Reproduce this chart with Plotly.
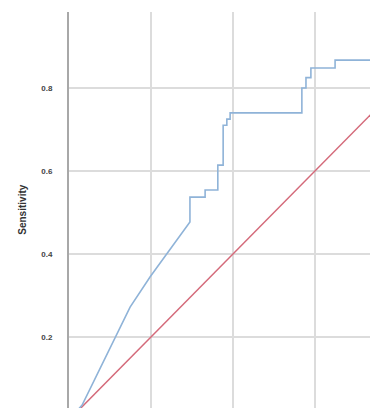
import plotly.graph_objects as go

# ROC curve (1 - specificity, sensitivity)
roc_fpr = [0.0, 0.032, 0.149, 0.198, 0.295, 0.295, 0.332, 0.332, 0.363, 0.363,
           0.376, 0.376, 0.385, 0.385, 0.393, 0.393, 0.568, 0.568, 0.578, 0.578,
           0.590, 0.590, 0.649, 0.649, 0.752, 0.752]
roc_tpr = [0.0, 0.036, 0.272, 0.345, 0.477, 0.537, 0.537, 0.554, 0.554, 0.614,
           0.614, 0.710, 0.710, 0.725, 0.725, 0.740, 0.740, 0.800, 0.800, 0.825,
           0.825, 0.848, 0.848, 0.867, 0.867, 0.905]
ref_x = [0.0, 1.0]
ref_y = [0.0, 1.0]
y_ticks = [0.2, 0.4, 0.6, 0.8, 1.0]
y_labels = ["0.2", "0.4", "0.6", "0.8", "1.0"]
x_ticks = [0.2, 0.4, 0.6, 0.8]

fig = go.Figure()
fig.add_trace(go.Scatter(x=ref_x, y=ref_y, mode="lines",
                         line=dict(color="#d46a7a", width=1.5), showlegend=False))
fig.add_trace(go.Scatter(x=roc_fpr, y=roc_tpr, mode="lines",
                         line=dict(color="#8fb3d8", width=1.6), showlegend=False))

# page body has an 8px margin, so the figure is 370x400 placed at (8, 8)
fig.update_layout(
    width=370, height=400,
    margin=dict(l=61, r=0, t=4, b=0, pad=0, autoexpand=False),
    paper_bgcolor="white", plot_bgcolor="white",
    font=dict(family="Liberation Sans, Arial, sans-serif"),
    xaxis=dict(range=[0, 0.7537], tickvals=x_ticks, showticklabels=False,
               showgrid=True, gridcolor="#dcdcdc", gridwidth=1.5, automargin=False,
               zeroline=False, showline=False),
    yaxis=dict(range=[0.0289, 0.983], tickvals=y_ticks, ticktext=y_labels,
               showgrid=True, gridcolor="#dcdcdc", gridwidth=1.5, automargin=False,
               zeroline=False, showline=True, linecolor="#a8a8a8", linewidth=2,
               ticks="outside", ticklen=0, ticklabelstandoff=13,
               tickfont=dict(size=8, color="#444444", weight="bold")),
    annotations=[
        dict(text="Sensitivity", xref="paper", yref="paper", x=-0.153, y=0.5,
             textangle=-90, showarrow=False,
             font=dict(size=10, color="#333333", weight="bold"),
             xanchor="center", yanchor="middle"),
    ],
)

fig.write_html("out.html")
